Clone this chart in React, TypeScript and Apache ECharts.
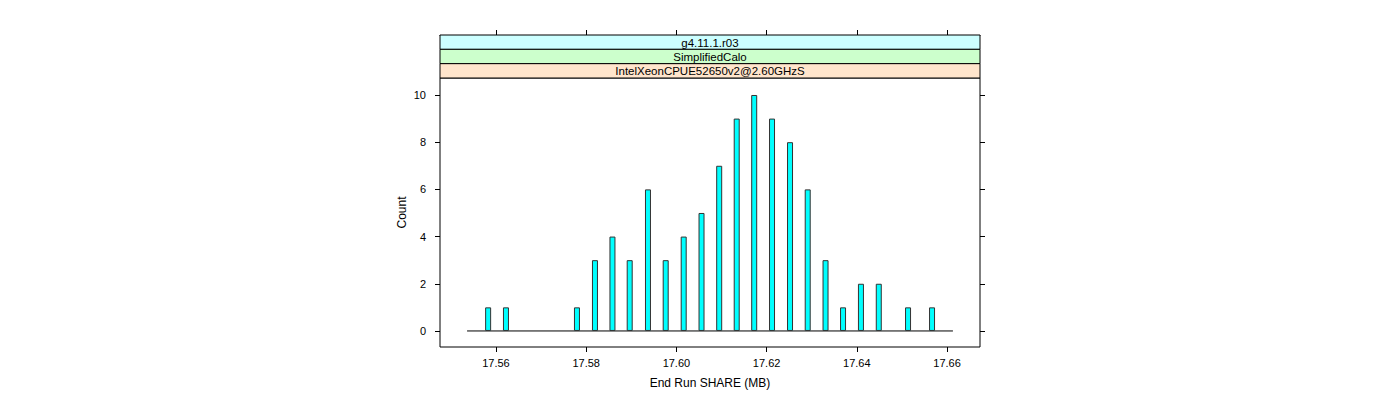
import React, { useEffect, useRef } from "react";
import * as echarts from "echarts";

const shareValues = [
  17.55827, 17.56222, 17.57796, 17.58195, 17.58583, 17.58965, 17.5937, 17.59763,
  17.60162, 17.60557, 17.60949, 17.61337, 17.61725, 17.6212, 17.62519, 17.62911,
  17.63306, 17.63694, 17.64091, 17.64486, 17.65135, 17.65667,
];
const counts = [1, 1, 1, 3, 4, 3, 6, 3, 4, 5, 7, 9, 10, 9, 8, 6, 3, 1, 2, 2, 1, 1];
const baselineRange = [17.5536, 17.6613];
const xTicks = [17.56, 17.58, 17.6, 17.62, 17.64, 17.66];
const yTicks = [0, 2, 4, 6, 8, 10];
const stripLabels = ["g4.11.1.r03", "SimplifiedCalo", "IntelXeonCPUE52650v2@2.60GHzS"];
const stripColors = ["#ccffff", "#ccffcc", "#ffe5cc"];

const FONT = "Liberation Sans, Arial, Helvetica, sans-serif";

export default function App() {
  const ref = useRef<HTMLDivElement>(null);
  useEffect(() => {
    document.body.style.margin = "0";
    if (!ref.current) return;
    const chart = echarts.init(ref.current, null, { renderer: "svg" });
    const gl = 440, gr = 980, gt = 78, gb = 347;
    const stripTop = 35;
    const stripH = (gt - stripTop) / stripLabels.length;
    const graphics: any[] = [];
    stripLabels.forEach((lab, i) => {
      const y = stripTop + i * stripH;
      graphics.push({
        type: "rect",
        shape: { x: gl, y, width: gr - gl, height: stripH },
        style: { fill: stripColors[i], stroke: "#000", lineWidth: 1 },
        z: 20,
      });
      graphics.push({
        type: "text",
        x: (gl + gr) / 2,
        y: y + stripH / 2 + 0.5,
        style: {
          text: lab,
          fill: "#000",
          font: `11.5px ${FONT}`,
          align: "center",
          verticalAlign: "middle",
        },
        z: 21,
      });
    });
    const tickStyle = { show: true, inside: false, length: 5, lineStyle: { color: "#000", width: 1 } };
    const noLine = { show: false, onZero: false };
    chart.setOption({
      animation: false,
      backgroundColor: "#fff",
      grid: {
        left: gl,
        right: 1400 - gr,
        top: gt,
        bottom: 400 - gb,
        show: true,
        borderColor: "#000",
        borderWidth: 1,
        containLabel: false,
        outerBoundsMode: "none",
      },
      xAxis: [
        {
          type: "value",
          position: "bottom",
          min: 17.5476,
          max: 17.6673,
          axisLine: noLine,
          axisTick: { ...tickStyle, customValues: xTicks },
          splitLine: { show: false },
          axisLabel: {
            customValues: xTicks,
            formatter: (v: number) => v.toFixed(2),
            color: "#000",
            fontFamily: FONT,
            fontSize: 11,
            margin: 10,
          },
          name: "End Run SHARE (MB)",
          nameLocation: "middle",
          nameGap: 30,
          nameTextStyle: { color: "#000", fontFamily: FONT, fontSize: 12 },
        },
        {
          type: "value",
          position: "top",
          offset: gt - stripTop,
          min: 17.5476,
          max: 17.6673,
          axisLine: { show: true, onZero: false, lineStyle: { color: "#000", width: 1 } },
          axisTick: { show: true, length: 5, customValues: xTicks, lineStyle: { color: "#000", width: 1 } },
          splitLine: { show: false },
          axisLabel: {
            show: true,
            customValues: xTicks,
            formatter: (v: number) => v.toFixed(2),
            color: "rgba(0,0,0,0)",
            fontSize: 8,
            margin: 8,
          },
        },
      ],
      yAxis: [
        {
          type: "value",
          position: "left",
          min: -0.68,
          max: 10.72,
          axisLine: noLine,
          axisTick: { ...tickStyle, customValues: yTicks },
          splitLine: { show: false },
          axisLabel: {
            customValues: yTicks,
            color: "#000",
            fontFamily: FONT,
            fontSize: 11,
            margin: 14,
          },
          name: "Count",
          nameLocation: "middle",
          nameGap: 32,
          nameRotate: 90,
          nameTextStyle: { color: "#000", fontFamily: FONT, fontSize: 12 },
        },
        {
          type: "value",
          position: "right",
          min: -0.68,
          max: 10.72,
          axisLine: noLine,
          axisTick: { ...tickStyle, customValues: yTicks },
          splitLine: { show: false },
          axisLabel: { show: false },
        },
      ],
      series: [
        {
          type: "line",
          xAxisIndex: 0,
          yAxisIndex: 0,
          data: baselineRange.map((x) => [x, 0]),
          symbol: "none",
          lineStyle: { color: "#000", width: 1 },
          z: 1,
          silent: true,
        },
        {
          type: "bar",
          xAxisIndex: 0,
          yAxisIndex: 0,
          data: shareValues.map((x, i) => [x, counts[i]]),
          barWidth: 6,
          itemStyle: { color: "#00ffff", borderColor: "#333", borderWidth: 1 },
          z: 2,
        },
      ],
      graphic: graphics,
    });
    return () => chart.dispose();
  }, []);
  return <div ref={ref} style={{ width: 1400, height: 400 }} />;
}
